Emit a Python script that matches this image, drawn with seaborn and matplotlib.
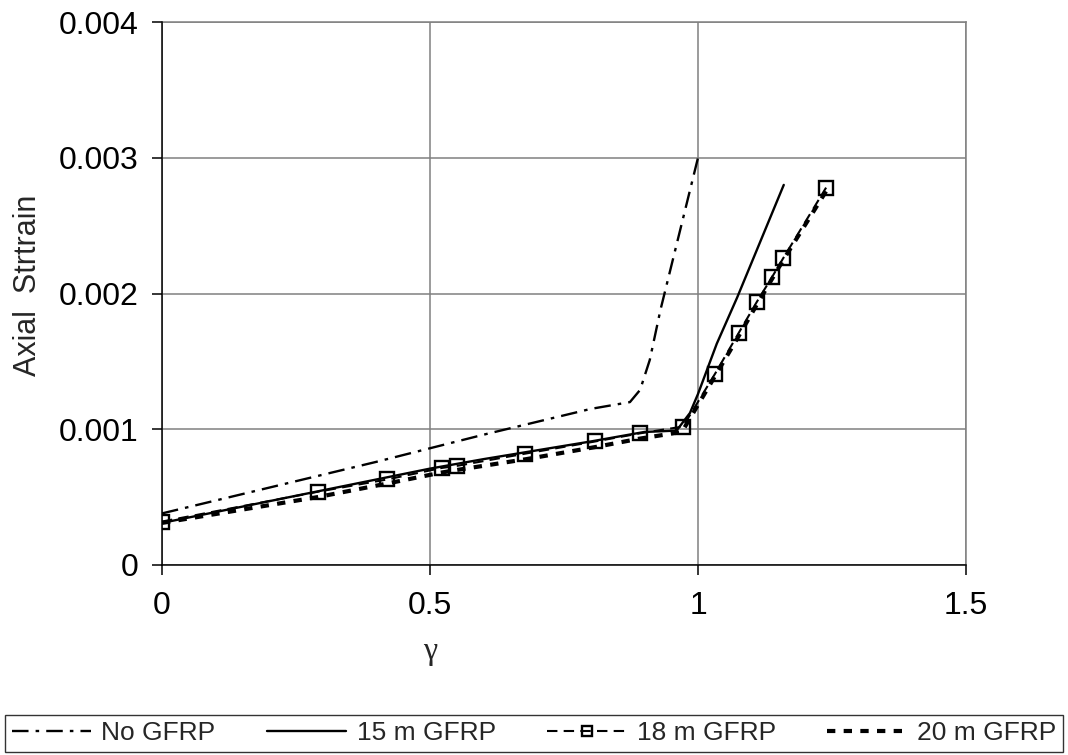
import matplotlib
matplotlib.use("Agg")
import matplotlib.pyplot as plt
import seaborn as sns
import pandas as pd

# ---- data ----
no_gfrp_x = [0.0, 0.2, 0.4, 0.6, 0.8, 0.873, 0.892, 0.91, 0.93, 1.0]
no_gfrp_y = [0.00038, 0.00057, 0.00076, 0.00096, 0.00115, 0.00120, 0.00129, 0.00151, 0.00188, 0.0030]

g15_x = [0.0, 0.2, 0.4, 0.5, 0.6, 0.8, 0.9, 0.96, 0.985, 1.0, 1.035, 1.073, 1.16]
g15_y = [0.00031, 0.00047, 0.00063, 0.00071, 0.00078, 0.00091, 0.00098, 0.00099, 0.00112, 0.00126, 0.00163, 0.00197, 0.0028]

g18_x = [0.0, 0.291, 0.42, 0.522, 0.55, 0.677, 0.808, 0.892, 0.972, 1.032, 1.076, 1.11, 1.138, 1.159, 1.239]
g18_y = [0.00032, 0.00054, 0.00063, 0.000715, 0.00073, 0.00082, 0.00091, 0.00097, 0.00102, 0.00141, 0.00171, 0.00194, 0.00212, 0.00226, 0.00278]

g20_x = [0.0, 0.29, 0.42, 0.52, 0.55, 0.68, 0.81, 0.89, 0.97, 1.03, 1.075, 1.11, 1.137, 1.158, 1.24]
g20_y = [0.00031, 0.00050, 0.00060, 0.00068, 0.00070, 0.00078, 0.00087, 0.00093, 0.00098, 0.00138, 0.00168, 0.00192, 0.00210, 0.00224, 0.00276]

series_names = ["No GFRP", "15 m GFRP", "18 m GFRP", "20 m GFRP"]
x_ticks = [0, 0.5, 1, 1.5]
x_tick_labels = ["0", "0.5", "1", "1.5"]
y_ticks = [0, 0.001, 0.002, 0.003, 0.004]
y_tick_labels = ["0", "0.001", "0.002", "0.003", "0.004"]

# ---- style ----
sns.set_style("white")
plt.rcParams["font.family"] = ["Liberation Sans", "DejaVu Sans"]

fig = plt.figure(figsize=(10.68, 7.55), dpi=100)
ax = fig.add_axes([162 / 1068, 1 - 565 / 755, (966 - 162) / 1068, (565 - 22) / 755])

def frame(x, y):
    return pd.DataFrame({"x": x, "y": y})

sns.lineplot(data=frame(no_gfrp_x, no_gfrp_y), x="x", y="y", ax=ax, color="black",
             estimator=None, sort=False, linewidth=1.7,
             linestyle=(0, (7, 3, 1.5, 3)), label=series_names[0])
sns.lineplot(data=frame(g15_x, g15_y), x="x", y="y", ax=ax, color="black",
             estimator=None, sort=False, linewidth=1.7, linestyle="-",
             label=series_names[1])
sns.lineplot(data=frame(g18_x, g18_y), x="x", y="y", ax=ax, color="black",
             estimator=None, sort=False, linewidth=1.5, linestyle=(0, (5, 3)),
             marker="s", markersize=9.5, markerfacecolor="none",
             markeredgecolor="black", markeredgewidth=1.7, label=series_names[2])
sns.lineplot(data=frame(g20_x, g20_y), x="x", y="y", ax=ax, color="black",
             estimator=None, sort=False, linewidth=3.0, linestyle=(0, (2, 2)),
             label=series_names[3])

ax.set_xlim(0, 1.5)
ax.set_ylim(0, 0.004)
ax.set_xticks(x_ticks)
ax.set_xticklabels(x_tick_labels)
ax.set_yticks(y_ticks)
ax.set_yticklabels(y_tick_labels)
ax.grid(True, color="#808080", linewidth=1.1)
ax.set_axisbelow(True)
for s in ["left", "bottom"]:
    ax.spines[s].set_color("black")
    ax.spines[s].set_linewidth(1.1)
    ax.spines[s].set_zorder(3)
for s in ["top", "right"]:
    ax.spines[s].set_color("#808080")
    ax.spines[s].set_linewidth(1.1)
ax.tick_params(axis="both", which="major", direction="out", length=7, width=1.1,
               color="black", labelsize=23, labelcolor="black")
ax.tick_params(axis="x", pad=12)
ax.tick_params(axis="y", pad=10)
ax.tick_params(left=True, bottom=True)

ax.set_xlabel("")
ax.set_ylabel("")
fig.text(28 / 1068, 1 - 285 / 755, "Axial  Strtrain", rotation=90, fontsize=22,
         ha="center", va="center")
fig.text(430 / 1068, 1 - 652 / 755, "γ", fontsize=23, ha="center", va="center",
         family=["Liberation Serif", "DejaVu Serif"])

handles, labels = ax.get_legend_handles_labels()
ax.get_legend().remove()
leg = fig.legend(handles, labels, loc="lower left", ncol=4, mode="expand",
                 bbox_to_anchor=(5 / 1068, 3 / 755, 1058 / 1068, 45 / 755),
                 frameon=True, fancybox=False, edgecolor="black", fontsize=19,
                 handlelength=3.0, handletextpad=0.4, columnspacing=0.8,
                 borderpad=0.25, borderaxespad=0, markerscale=0.7)
leg.get_frame().set_linewidth(1.0)

fig.savefig("out.png", dpi=100)
